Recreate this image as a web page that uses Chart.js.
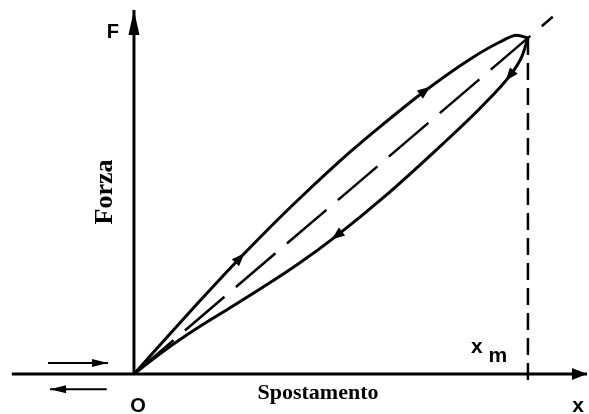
<!DOCTYPE html>
<html>
<head>
<meta charset="utf-8">
<script src="https://cdn.jsdelivr.net/npm/chart.js@4.4.1/dist/chart.umd.min.js"></script>
<style>
  html, body { margin: 0; padding: 0; background: #ffffff; }
  #wrap { width: 589px; height: 414px; position: relative; }
</style>
</head>
<body>
<div id="wrap"><canvas id="c" width="589" height="414"></canvas></div>
<script>
// ---- Data (displacement as fraction of x_m, force as fraction of F at x_m) ----
const loadingX   = [0, 0.074, 0.160, 0.269, 0.345, 0.421, 0.548, 0.632, 0.739, 0.853, 0.929, 0.972, 1.000];
const loadingF   = [0, 0.097, 0.208, 0.345, 0.436, 0.523, 0.660, 0.743, 0.843, 0.937, 0.988, 1.008, 1.000];
const unloadingX = [0, 0.074, 0.160, 0.244, 0.327, 0.414, 0.515, 0.632, 0.784, 0.886, 0.954, 0.985, 1.000];
const unloadingF = [0, 0.067, 0.136, 0.197, 0.258, 0.325, 0.412, 0.524, 0.685, 0.800, 0.888, 0.946, 1.000];
const elasticX   = [0, 1.063];
const elasticF   = [0, 1.063];
const xmLineX    = [1, 1];
const xmLineF    = [1, -0.036];
const xAxisX     = [-0.310, 1.150];
const xAxisF     = [0, 0];
const yAxisX     = [0, 0];
const yAxisF     = [0, 1.083];
const pushX      = [-0.218, -0.066];
const pushF      = [0.033, 0.033];
const pullX      = [-0.069, -0.213];
const pullF      = [-0.045, -0.045];
// Labels
const labelForce = 'Forza';
const labelDisp  = 'Spostamento';
const labelF = 'F', labelO = 'O', labelx = 'x', labelXm = 'x', labelXmSub = 'm';

const pts = (xs, ys) => xs.map((x, i) => ({ x, y: ys[i] }));

function line(data, opts) {
  return Object.assign({
    data, showLine: true, borderColor: '#000', backgroundColor: '#000',
    borderWidth: 3, pointRadius: 0, pointHoverRadius: 0, clip: false, tension: 0
  }, opts || {});
}

const datasets = [
  line(pts(loadingX, loadingF), { cubicInterpolationMode: 'monotone', borderWidth: 3 }),
  line(pts(unloadingX, unloadingF), { cubicInterpolationMode: 'monotone', borderWidth: 3 }),
  line(pts(elasticX, elasticF), { borderWidth: 2.5, borderDash: [52, 15] }),
  line(pts(xmLineX, xmLineF), { borderWidth: 2.5, borderDash: [17, 8] }),
  line(pts(xAxisX, xAxisF), { borderWidth: 3 }),
  line(pts(yAxisX, yAxisF), { borderWidth: 3 }),
  line(pts(pushX, pushF), { borderWidth: 2 }),
  line(pts(pullX, pullF), { borderWidth: 2 })
];

// arrowheads: dataset, point index, mode ('mid' centred / 'tip'), reverse, length, half-width
const arrowSpecs = [
  { ds: 0, i: 3,  mode: 'mid', rev: false, L: 13, W: 5 },
  { ds: 0, i: 8,  mode: 'mid', rev: false, L: 13, W: 5 },
  { ds: 1, i: 6,  mode: 'mid', rev: true,  L: 13, W: 5 },
  { ds: 1, i: 10, mode: 'mid', rev: true,  L: 13, W: 5 },
  { ds: 4, i: 1,  mode: 'tip', rev: false, L: 15, W: 6 },
  { ds: 5, i: 1,  mode: 'tip', rev: false, L: 25, W: 5.5 },
  { ds: 6, i: 1,  mode: 'tip', rev: false, L: 16, W: 4 },
  { ds: 7, i: 1,  mode: 'tip', rev: false, L: 16, W: 4 }
];

const arrowPlugin = {
  id: 'arrows',
  afterDatasetsDraw(chart) {
    const ctx = chart.ctx;
    const sx = chart.scales.x, sy = chart.scales.y;
    arrowSpecs.forEach(a => {
      const d = chart.data.datasets[a.ds].data;
      const p = d[a.i];
      const prev = d[Math.max(0, a.i - 1)];
      const next = d[Math.min(d.length - 1, a.i + 1)];
      const px = sx.getPixelForValue(p.x), py = sy.getPixelForValue(p.y);
      let dx = sx.getPixelForValue(next.x) - sx.getPixelForValue(prev.x);
      let dy = sy.getPixelForValue(next.y) - sy.getPixelForValue(prev.y);
      if (a.rev) { dx = -dx; dy = -dy; }
      const len = Math.hypot(dx, dy); dx /= len; dy /= len;
      let tx, ty;
      if (a.mode === 'tip') { tx = px; ty = py; } else { tx = px + dx * a.L / 2; ty = py + dy * a.L / 2; }
      const bx = tx - dx * a.L, by = ty - dy * a.L;
      ctx.save();
      ctx.fillStyle = '#000';
      ctx.beginPath();
      ctx.moveTo(tx, ty);
      ctx.lineTo(bx - dy * a.W, by + dx * a.W);
      ctx.lineTo(bx + dy * a.W, by - dx * a.W);
      ctx.closePath();
      ctx.fill();
      ctx.restore();
    });
  }
};

const textPlugin = {
  id: 'texts',
  afterDraw(chart) {
    const ctx = chart.ctx;
    const sx = chart.scales.x, sy = chart.scales.y;
    const X = v => sx.getPixelForValue(v), Y = v => sy.getPixelForValue(v);
    ctx.save();
    ctx.fillStyle = '#000';
    ctx.textAlign = 'center';
    ctx.textBaseline = 'middle';
    const sans = '"Liberation Sans", Arial, sans-serif';
    const serif = '"Liberation Serif", "Times New Roman", serif';
    ctx.font = 'bold 20px ' + sans;
    ctx.fillText(labelF, X(0) - 21, Y(1.083) + 22);
    ctx.fillText(labelO, X(0) + 4, Y(0) + 32);
    ctx.font = 'bold 21px ' + sans;
    ctx.fillText(labelx, X(1.150) - 9, Y(0) + 32);
    ctx.fillText(labelXm, X(1) - 51, Y(0) - 27);
    ctx.fillText(labelXmSub, X(1) - 30, Y(0) - 18);
    ctx.font = 'bold 22px ' + serif;
    ctx.fillText(labelDisp, 318, Y(0) + 19);
    ctx.translate(105, 192);
    ctx.rotate(-Math.PI / 2);
    ctx.font = 'bold 26px ' + serif;
    ctx.fillText(labelForce, 0, 0);
    ctx.restore();
  }
};

new Chart(document.getElementById('c'), {
  type: 'scatter',
  data: { datasets },
  options: {
    responsive: false,
    animation: false,
    events: [],
    layout: { padding: 0 },
    plugins: { legend: { display: false }, tooltip: { enabled: false } },
    scales: {
      x: { type: 'linear', display: false, min: -0.340, max: 1.155 },
      y: { type: 'linear', display: false, min: -0.119, max: 1.113 }
    }
  },
  plugins: [arrowPlugin, textPlugin]
});
</script>
</body>
</html>
